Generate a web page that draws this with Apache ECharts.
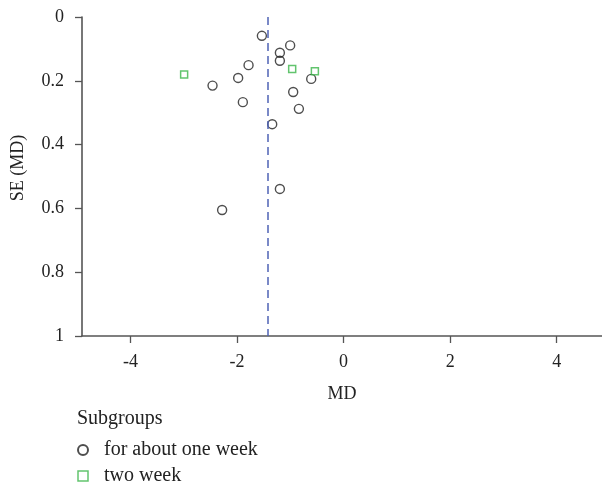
<!DOCTYPE html>
<html>
<head>
<meta charset="utf-8">
<script src="https://cdn.jsdelivr.net/npm/echarts@6/dist/echarts.min.js"></script>
<style>
html,body{margin:0;padding:0;background:#fff;}
#chart{width:602px;height:486px;}
</style>
</head>
<body>
<div id="chart"></div>
<script>
// Data
var seriesNames = ['for about one week', 'two week'];
var oneWeekMD = [-1.534, -1.003, -1.196, -1.196, -1.784, -1.979, -2.46, -0.608, -0.946, -1.891, -0.839, -1.34, -1.196, -2.28];
var oneWeekSE = [0.059, 0.089, 0.112, 0.137, 0.151, 0.191, 0.215, 0.194, 0.235, 0.267, 0.288, 0.336, 0.539, 0.605];
var twoWeekMD = [-2.993, -0.965, -0.539];
var twoWeekSE = [0.180, 0.163, 0.170];
var pooledMD = -1.427;
var xTickValues = [-4, -2, 0, 2, 4];
var yTickValues = [0, 0.2, 0.4, 0.6, 0.8, 1];

function pairs(xs, ys) {
  return xs.map(function (x, i) { return [x, ys[i]]; });
}

var FONT = 'Liberation Serif';
var chart = echarts.init(document.getElementById('chart'), null, {renderer: 'canvas'});
chart.setOption({
  animation: false,
  backgroundColor: '#fff',
  textStyle: {fontFamily: FONT},
  grid: {left: 82, right: 0, top: 17, bottom: 150, containLabel: false},
  xAxis: {
    type: 'value',
    min: -4.91,
    max: 4.85,
    name: 'MD',
    nameLocation: 'middle',
    nameGap: 49,
    nameTextStyle: {fontFamily: FONT, fontSize: 18, color: '#222'},
    splitLine: {show: false},
    axisLine: {show: true, onZero: false, lineStyle: {color: '#555', width: 1.6}},
    axisTick: {show: true, inside: false, length: 7, customValues: xTickValues, lineStyle: {color: '#555', width: 1.3}},
    axisLabel: {customValues: xTickValues, margin: 17, fontFamily: FONT, fontSize: 18, color: '#222'}
  },
  yAxis: {
    type: 'value',
    inverse: true,
    min: 0,
    max: 1,
    name: 'SE (MD)',
    nameLocation: 'middle',
    nameGap: 55,
    nameRotate: 90,
    nameTextStyle: {fontFamily: FONT, fontSize: 18, color: '#222', padding: [0, 0, 0, 17]},
    splitLine: {show: false},
    axisLine: {show: true, onZero: false, lineStyle: {color: '#555', width: 1.6}},
    axisTick: {show: true, inside: false, length: 7, customValues: yTickValues, lineStyle: {color: '#555', width: 1.3}},
    axisLabel: {customValues: yTickValues, margin: 18, fontFamily: FONT, fontSize: 18, color: '#222'}
  },
  title: {
    text: 'Subgroups',
    left: 77,
    top: 409,
    padding: 0,
    textStyle: {fontFamily: FONT, fontSize: 20, fontWeight: 'normal', color: '#222'}
  },
  legend: {
    orient: 'vertical',
    left: 77,
    top: 440,
    itemWidth: 10,
    itemHeight: 10,
    itemGap: 6,
    padding: 0,
    data: [
      {name: seriesNames[0], icon: 'circle'},
      {name: seriesNames[1], icon: 'rect', itemStyle: {borderWidth: 1.5}}
    ],
    textStyle: {fontFamily: FONT, fontSize: 20, color: '#222', padding: [0, 0, 0, 11]}
  },
  series: [
    {
      name: seriesNames[0],
      type: 'scatter',
      symbol: 'circle',
      symbolSize: 9,
      itemStyle: {color: 'rgba(255,255,255,0)', borderColor: '#222', borderWidth: 1.4},
      data: pairs(oneWeekMD, oneWeekSE),
      markLine: {
        silent: true,
        symbol: ['none', 'none'],
        label: {show: false},
        lineStyle: {color: '#4f63b5', type: [8, 5], width: 1.5},
        data: [{xAxis: pooledMD}]
      },
      z: 3
    },
    {
      name: seriesNames[1],
      type: 'scatter',
      symbol: 'rect',
      symbolSize: 7,
      itemStyle: {color: 'rgba(255,255,255,0)', borderColor: '#3bb54a', borderWidth: 1.5},
      data: pairs(twoWeekMD, twoWeekSE),
      z: 4
    }
  ]
});
</script>
</body>
</html>
